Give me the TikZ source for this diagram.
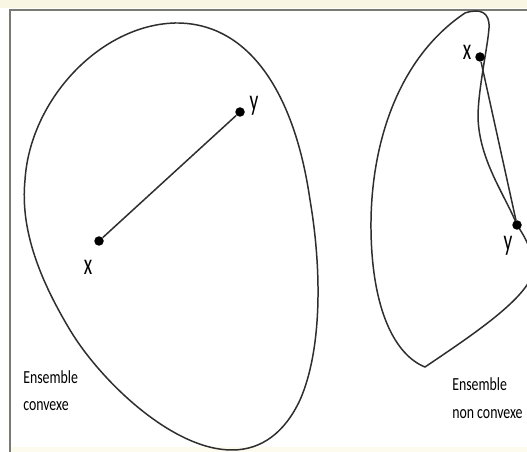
\documentclass[tikz,border=0pt]{standalone}
\usepackage{fontspec}
\setmainfont{Carlito}
\usepackage{tikz}
\usepackage{xcolor}
\usetikzlibrary{positioning}
\definecolor{framegray}{HTML}{7A7A72}
\definecolor{curvegray}{HTML}{2E2E2E}
\definecolor{creamtop}{HTML}{F9F6E3}
\definecolor{creambot}{HTML}{FDFBEE}
\tikzset{
  region/.style={draw=curvegray, line width=0.85pt},
  frameline/.style={draw=framegray, line width=1.1pt},
  pointdot/.style={circle, fill=black, inner sep=0pt, minimum size=0.19cm},
  seg/.style={draw=curvegray, line width=0.85pt},
  ptlabel/.style={font=\fontsize{17}{20}\selectfont, xscale=0.65, anchor=base, inner sep=0pt},
  caption/.style={font=\fontsize{10.5}{12}\selectfont, xscale=0.75, anchor=base west, inner sep=0pt}
}

\begin{document}
\begin{tikzpicture}[x=0.02cm, y=-0.02cm]
  \useasboundingbox (0,0) rectangle (527,452);
  \clip (0,0) rectangle (527,452);
  \fill[white] (0,0) rectangle (527,452);
  \fill[creamtop] (0,0) rectangle (527,8);
  \fill[creambot] (10,447) rectangle (527,452);
  \draw[frameline] (10,452) -- (10,10) -- (527,10);

  % convex set
  \draw[region] (175,23) .. controls (250,22) and (295,95) .. (310,200)
    .. controls (322,270) and (322,350) .. (300,400)
    .. controls (285,432) and (262,450) .. (232,450)
    .. controls (172,450) and (100,380) .. (70,330)
    .. controls (40,280) and (20,230) .. (25,180)
    .. controls (30,100) and (100,25) .. (175,23) -- cycle;
  \node[pointdot] (xa) at (99,241) {};
  \node[pointdot] (ya) at (240,112) {};
  \draw[seg] (xa) -- (ya);
  \node[ptlabel] (xalbl) at (88,275) {x};
  \node[ptlabel] (yalbl) at (254,111) {y};
  \node[caption] (capa1) at (23,383) {Ensemble};
  \node[caption] (capa2) at (23,410) {convexe};

  % non convex set
  \draw[region] (425,367) .. controls (395,355) and (372,310) .. (371,230)
    .. controls (370,150) and (395,60) .. (465,13)
    .. controls (480,8) and (490,12) .. (489,28)
    .. controls (488,45) and (478,90) .. (478,117)
    .. controls (479,160) and (505,195) .. (517,225)
    .. controls (527,240) and (540,262) .. (527,285)
    .. controls (510,310) and (465,340) .. (425,367) -- cycle;
  \node[pointdot] (xb) at (480,57) {};
  \node[pointdot] (yb) at (517,225) {};
  \draw[seg] (xb) -- (yb);
  \node[ptlabel] (xblbl) at (467,60) {x};
  \node[ptlabel] (yblbl) at (508,251) {y};
  \node[caption] (capb1) at (452,390) {Ensemble};
  \node[caption] (capb2) at (452,418) {non convexe};
\end{tikzpicture}
\end{document}
